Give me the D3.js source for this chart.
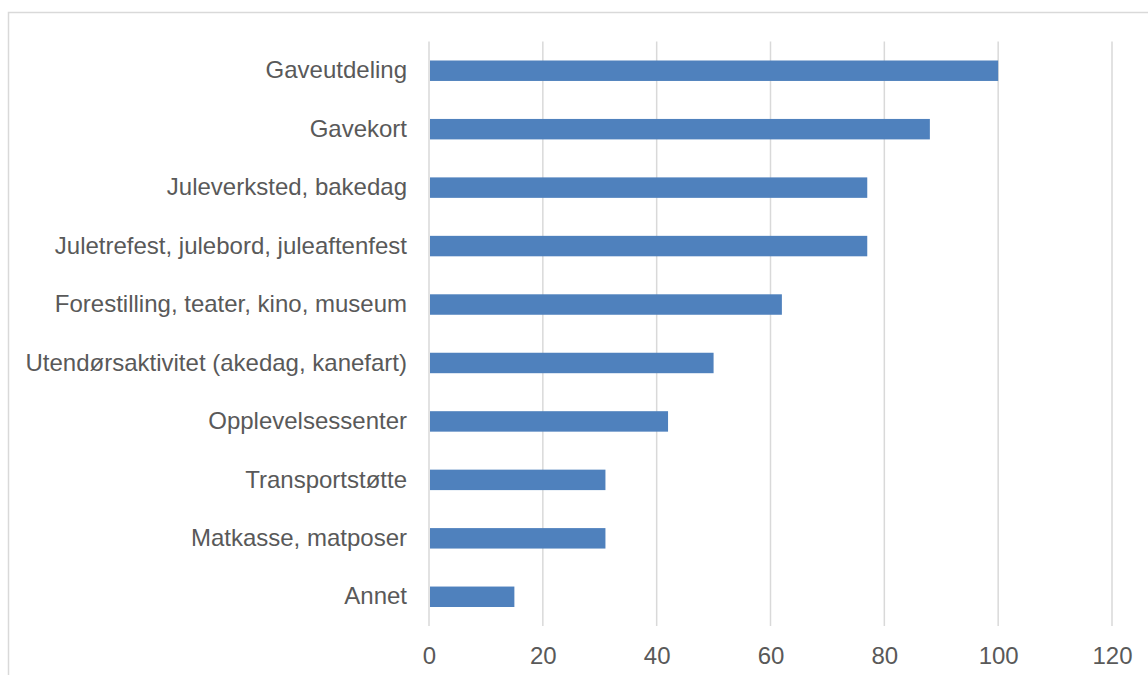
<!DOCTYPE html>
<html>
<head>
<meta charset="utf-8">
<script src="https://cdn.jsdelivr.net/npm/d3@7"></script>
<style>
  html, body { margin: 0; padding: 0; background: #ffffff; }
  svg { display: block; }
  .axis text { font-family: "Liberation Sans", Arial, sans-serif; font-size: 24px; fill: #595959; }
</style>
</head>
<body>
<svg id="chart" width="1148" height="675"></svg>
<script>
// Categories, top to bottom, and their counts
const categories = [
  "Gaveutdeling",
  "Gavekort",
  "Juleverksted, bakedag",
  "Juletrefest, julebord, juleaftenfest",
  "Forestilling, teater, kino, museum",
  "Utendørsaktivitet (akedag, kanefart)",
  "Opplevelsessenter",
  "Transportstøtte",
  "Matkasse, matposer",
  "Annet"
];
const values = [100, 88, 77, 77, 62, 50, 42, 31, 31, 15];
const xTicks = [0, 20, 40, 60, 80, 100, 120];

const svg = d3.select("#chart");

// Outer chart frame
svg.append("rect")
  .attr("x", 8.5).attr("y", 12.5)
  .attr("width", 1300).attr("height", 800)
  .attr("fill", "none")
  .attr("stroke", "#d9d9d9")
  .attr("stroke-width", 1.5);

const plot = { left: 429, right: 1112, top: 41.5, bottom: 626 };

const x = d3.scaleLinear().domain([0, 120]).range([plot.left, plot.right]);
const y = d3.scaleBand()
  .domain(categories)
  .range([plot.top, plot.bottom])
  .paddingInner(0.65)
  .paddingOuter(0.325);

// Vertical gridlines
svg.append("g")
  .selectAll("line")
  .data(xTicks)
  .join("line")
  .attr("x1", d => x(d)).attr("x2", d => x(d))
  .attr("y1", plot.top).attr("y2", plot.bottom)
  .attr("stroke", "#d9d9d9")
  .attr("stroke-width", 1.5);

// Bars
svg.append("g")
  .selectAll("rect")
  .data(categories.map((c, i) => ({ c, v: values[i] })))
  .join("rect")
  .attr("x", x(0) + 1)
  .attr("y", d => y(d.c))
  .attr("width", d => x(d.v) - x(0) - 1)
  .attr("height", y.bandwidth())
  .attr("fill", "#4f81bd");

// Category axis
const yAxis = svg.append("g")
  .attr("class", "axis")
  .attr("transform", `translate(${plot.left},0)`)
  .call(d3.axisLeft(y).tickSize(0).tickPadding(22));
yAxis.select(".domain").remove();

// Value axis
const xAxis = svg.append("g")
  .attr("class", "axis")
  .attr("transform", `translate(0,${plot.bottom})`)
  .call(d3.axisBottom(x).tickValues(xTicks).tickSize(0).tickPadding(21));
xAxis.select(".domain").remove();
</script>
</body>
</html>
